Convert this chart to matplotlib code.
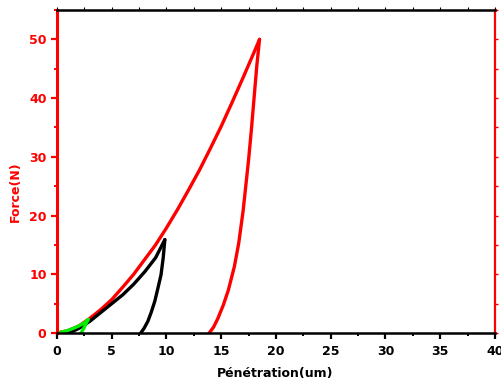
import matplotlib
matplotlib.use("Agg")
import matplotlib.pyplot as plt
from matplotlib.ticker import MultipleLocator

plt.rcParams['font.family'] = ['DejaVu Sans']

# Load / unload cycles (penetration in um, force in N)
red_load_x = [0, 1, 2, 3, 4, 5, 6, 7, 8, 9, 10, 11, 12, 13, 14, 15, 16, 17, 18, 18.5]
red_load_y = [0, 0.4, 1.2, 2.5, 4.0, 5.7, 7.8, 10.0, 12.5, 15.0, 17.9, 21.0, 24.3, 27.7, 31.4, 35.2, 39.3, 43.5, 47.8, 50.0]
red_unload_x = [18.5, 18.25, 18.0, 17.75, 17.5, 17.3, 17.0, 16.6, 16.2, 15.65, 15.2, 14.7, 14.3, 13.9]
red_unload_y = [50.0, 45.5, 40.0, 34.5, 29.5, 26.0, 20.8, 15.3, 11.3, 7.3, 4.8, 2.5, 1.0, 0.0]

black_load_x = [1.0, 1.5, 2, 3, 4, 5, 6, 7, 8, 9, 9.85]
black_load_y = [0, 0.35, 0.8, 2.0, 3.5, 5.0, 6.5, 8.3, 10.4, 12.8, 15.9]
black_unload_x = [9.85, 9.7, 9.5, 9.2, 8.93, 8.6, 8.3, 7.95, 7.65]
black_unload_y = [15.9, 12.8, 9.9, 7.5, 5.4, 3.5, 2.0, 0.8, 0.0]

green_load_x = [0, 0.5, 1.0, 1.5, 2.0, 2.5, 2.85]
green_load_y = [0, 0.2, 0.45, 0.8, 1.2, 1.75, 2.3]
green_unload_x = [2.85, 2.65, 2.5, 2.35, 2.2]
green_unload_y = [2.3, 1.6, 1.0, 0.5, 0.0]

x_label = "Pénétration(um)"
y_label = "Force(N)"

fig = plt.figure(figsize=(5.01, 3.85), dpi=100)
ax = fig.add_axes([0.1138, 0.135, 0.874, 0.839])

lw = 2.4
kw = dict(lw=lw, solid_capstyle='round', solid_joinstyle='round')
ax.plot(red_load_x, red_load_y, color='#ff0000', **kw)
ax.plot(red_unload_x, red_unload_y, color='#ff0000', **kw)
ax.plot(black_load_x, black_load_y, color='black', **kw)
ax.plot(black_unload_x, black_unload_y, color='black', **kw)
ax.plot(green_load_x, green_load_y, color='#00ee00', **kw)
ax.plot(green_unload_x, green_unload_y, color='#00ee00', **kw)

ax.set_xlim(0, 40)
ax.set_ylim(0, 55)

ax.xaxis.set_major_locator(MultipleLocator(5))
ax.xaxis.set_minor_locator(MultipleLocator(2.5))
ax.yaxis.set_major_locator(MultipleLocator(10))
ax.yaxis.set_minor_locator(MultipleLocator(5))

ax.spines['left'].set_color('#ff0000')
ax.spines['left'].set_linewidth(2.2)
ax.spines['right'].set_color('#ff0000')
ax.spines['right'].set_linewidth(1.6)
ax.spines['top'].set_color('black')
ax.spines['top'].set_linewidth(1.8)
ax.spines['bottom'].set_color('black')
ax.spines['bottom'].set_linewidth(1.8)

ax.tick_params(axis='x', which='major', direction='out', length=4.5, width=1.6,
               color='black', labelsize=9, pad=4)
ax.tick_params(axis='x', which='minor', direction='out', length=2.5, width=1.4,
               color='black')
ax.tick_params(axis='x', which='both', top=True, labeltop=False)
ax.tick_params(axis='y', which='major', direction='out', length=4.5, width=1.6,
               color='#ff0000', labelcolor='#ff0000', labelsize=9, pad=3, right=True)
ax.tick_params(axis='y', which='minor', direction='out', length=2.5, width=1.4,
               color='#ff0000', right=True)

for t in ax.xaxis.get_major_ticks() + ax.xaxis.get_minor_ticks():
    t.tick2line.set_color('#cccccc')
    t.tick2line.set_markersize(2)
    t.tick2line.set_markeredgewidth(0.8)
for t in ax.yaxis.get_major_ticks() + ax.yaxis.get_minor_ticks():
    t.tick2line.set_markersize(2.5)
    t.tick2line.set_markeredgewidth(1.0)

for lab in ax.get_xticklabels() + ax.get_yticklabels():
    lab.set_fontweight('bold')

ax.set_xlabel(x_label, fontsize=9, fontweight='bold', color='black')
ax.set_ylabel(y_label, fontsize=9, fontweight='bold', color='#ff0000')
ax.xaxis.set_label_coords(0.497, -0.104)
ax.yaxis.set_label_coords(-0.096, 0.438)
ax.yaxis.label.set_verticalalignment('center')
ax.xaxis.label.set_verticalalignment('top')

fig.savefig("out.png", dpi=100)
